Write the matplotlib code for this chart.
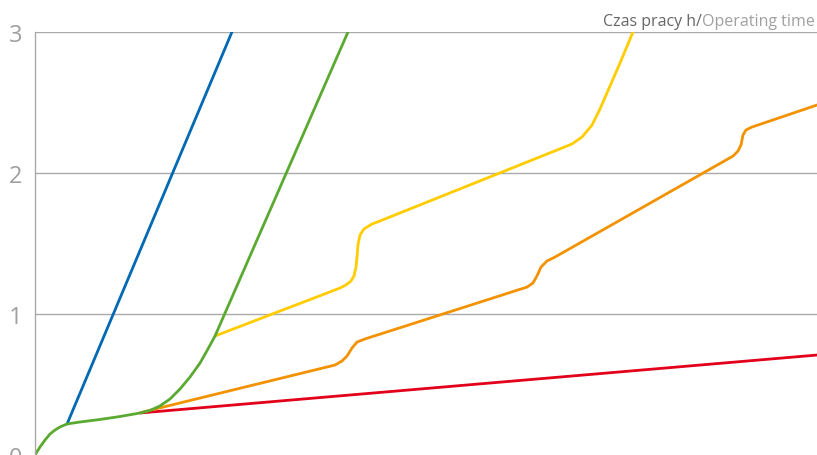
import matplotlib.pyplot as plt

# ==============================================================================
# DATA  (x in arbitrary units 0..100, y = operating time in h)
# ==============================================================================
blue_x = [4.1, 26.7]
blue_y = [0.22, 3.2]

green_x = [0, 0.64, 1.28, 1.92, 2.56, 3.2, 4.09, 5.75, 8.31, 10.87, 13.43, 14.71,
           15.98, 17.26, 18.54, 19.82, 21.1, 22.12, 23.02, 41.6]
green_y = [0, 0.057, 0.106, 0.149, 0.177, 0.199, 0.22, 0.234, 0.252, 0.273, 0.298,
           0.316, 0.348, 0.397, 0.468, 0.553, 0.652, 0.752, 0.844, 3.2]

yellow_x = [23.02, 39.0, 39.77, 40.41, 40.79, 41.05, 41.18, 41.3, 41.56, 42.07, 43.09,
            44.12, 67.39, 68.67, 69.95, 71.23, 72.25, 73.53, 74.81, 76.47, 77.37]
yellow_y = [0.844, 1.184, 1.206, 1.234, 1.27, 1.333, 1.404, 1.489, 1.56, 1.603, 1.638,
            1.66, 2.177, 2.206, 2.255, 2.34, 2.454, 2.617, 2.78, 3.0, 3.12]

orange_x = [13.81, 38.36, 39.26, 39.9, 40.54, 41.18, 42.2, 62.92, 63.68, 64.19, 64.71,
            65.47, 66.5, 89.26, 89.9, 90.28, 90.54, 90.92, 91.69, 100]
orange_y = [0.305, 0.638, 0.667, 0.702, 0.759, 0.801, 0.823, 1.191, 1.22, 1.27, 1.333,
            1.376, 1.404, 2.12, 2.156, 2.199, 2.27, 2.305, 2.326, 2.482]

red_x = [13.43, 100]
red_y = [0.298, 0.709]

yticks = [0, 1, 2, 3]

# ==============================================================================
# FIGURE
# ==============================================================================
fig = plt.figure(figsize=(8.17, 4.56), dpi=100)
ax = fig.add_axes([35 / 817, 0, 782 / 817, 423 / 456])

lw = 2.0
ax.plot(red_x, red_y, color="#e2001a", lw=lw, solid_capstyle="round")
ax.plot(orange_x, orange_y, color="#f39200", lw=lw, solid_capstyle="round")
ax.plot(yellow_x, yellow_y, color="#ffcc00", lw=lw, solid_capstyle="round")
ax.plot(blue_x, blue_y, color="#0069b4", lw=lw, solid_capstyle="round")
ax.plot(green_x, green_y, color="#5aaa32", lw=lw, solid_capstyle="round")

ax.set_xlim(0, 100)
ax.set_ylim(0, 3)
for v in yticks[1:]:
    ax.axhline(v, color="#aaaaaa", lw=1, zorder=0)

for s in ["top", "right", "bottom"]:
    ax.spines[s].set_visible(False)
ax.spines["left"].set_color("#aaaaaa")
ax.spines["left"].set_linewidth(1)

ax.set_xticks([])
ax.set_yticks(yticks)
ax.set_yticklabels([str(v) for v in yticks])
ax.tick_params(axis="y", length=0, pad=9, labelsize=17, labelcolor="#a0a0a0")
for t in ax.get_yticklabels():
    t.set_fontfamily("Open Sans")

t2 = fig.text(815 / 817, 1 - 26 / 456, "Operating time", ha="right", va="baseline",
              fontsize=11.5, color="#a0a0a0", family="Open Sans")
ax.annotate("Czas pracy h/", xy=(0, 0), xycoords=t2, ha="right", va="bottom",
            fontsize=11.5, color="#666666", family="Open Sans", annotation_clip=False)

fig.savefig("out.png", dpi=100)
